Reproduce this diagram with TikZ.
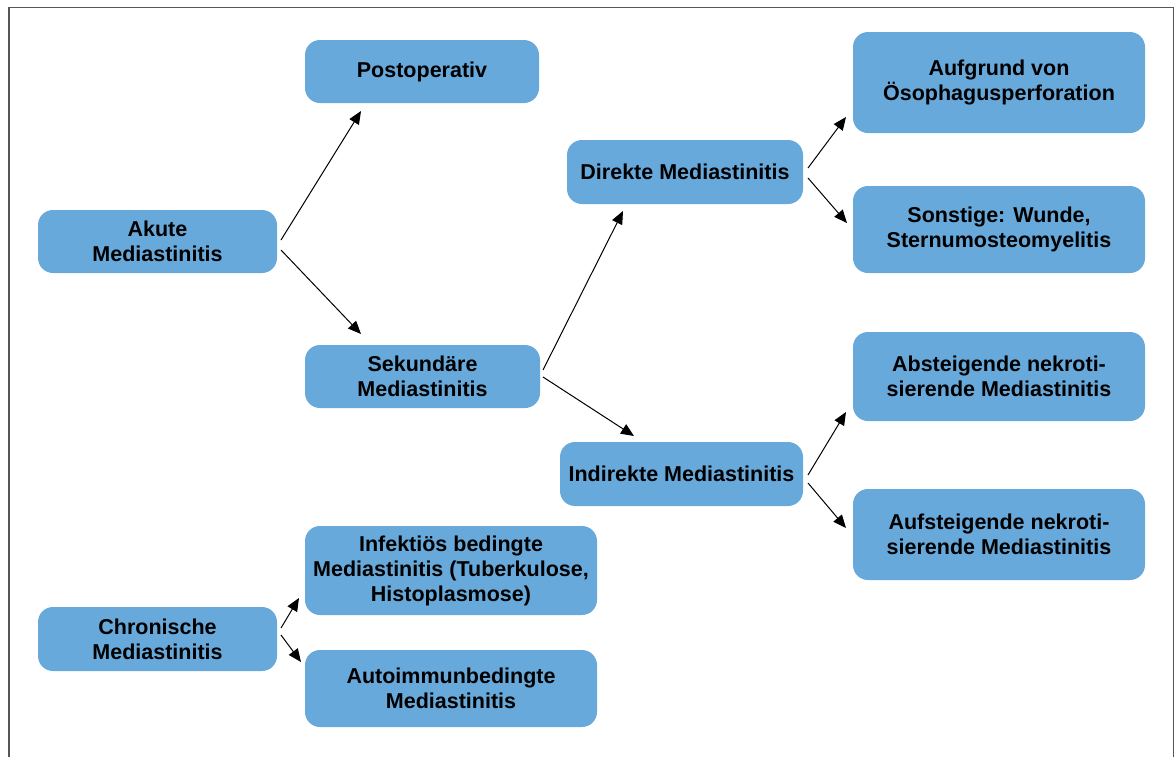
\documentclass[tikz,border=0pt]{standalone}
\usepackage{fontspec}
\setmainfont{Liberation Sans}
\usetikzlibrary{arrows.meta}
\definecolor{boxblue}{HTML}{68A9DC}
\definecolor{framegray}{HTML}{555555}
\tikzset{
  box/.style={fill=boxblue, rounded corners=15pt, inner sep=0pt},
  lbl/.style={font=\fontsize{21.5}{25}\selectfont\bfseries, align=center, text=black},
  arr/.style={-{Triangle[length=13pt,width=11pt]}, line width=1pt, black},
}
\newcommand{\bx}[6]{%
  \path[box] (#2,#3) rectangle (#4,#5);
  \node[lbl] (#1) at ({(#2+#4)/2},{(#3+#5)/2}) {#6};
  \coordinate (#1-w) at (#2,{(#3+#5)/2});
}
\begin{document}
\begin{tikzpicture}[x=1pt,y=-1pt]
\useasboundingbox (0,0) rectangle (1176,756);
\begin{scope}
\clip (0,0) rectangle (1176,756);
\draw[framegray, line width=1.2pt] (9,7.5) rectangle (1173.5,800);
\end{scope}

\bx{post}{305}{40}{539}{103}{Postoperativ}
\bx{akut}{38}{210}{277}{273}{Akute\\Mediastinitis}
\bx{sek}{305}{345}{540}{408}{Sekundäre\\Mediastinitis}
\bx{dir}{567}{140}{803}{204}{Direkte Mediastinitis}
\bx{ind}{560}{442}{803}{506}{Indirekte Mediastinitis}
\bx{auf}{853}{32}{1145}{133}{Aufgrund von\\Ösophagusperforation}
\bx{son}{853}{186}{1145}{273}{Sonstige: Wunde,\\Sternumosteomyelitis}
\bx{abs}{853}{332}{1145}{421}{Absteigende nekroti-\\sierende Mediastinitis}
\bx{aus}{853}{489}{1145}{580}{Aufsteigende nekroti-\\sierende Mediastinitis}
\bx{chr}{38}{607}{277}{671}{Chronische\\Mediastinitis}
\bx{inf}{305}{526}{597}{615}{Infektiös bedingte\\Mediastinitis (Tuberkulose,\\Histoplasmose)}
\bx{aut}{305}{650}{597}{727}{Autoimmunbedingte\\Mediastinitis}

\coordinate (a1) at (281,240); \coordinate (a2) at (281,250);
\coordinate (s1) at (543,370); \coordinate (s2) at (543,377);
\coordinate (d1) at (808,168); \coordinate (d2) at (808,178);
\coordinate (i1) at (808,475); \coordinate (i2) at (808,483);
\coordinate (c1) at (281,628); \coordinate (c2) at (281,635);
\coordinate (tpost) at (361,111);
\coordinate (tsek) at (361,334);
\coordinate (tdir) at (623,211);
\coordinate (tind) at (634,436);
\coordinate (tauf) at (846,117);
\coordinate (tson) at (847,223);
\coordinate (tabs) at (846,412);
\coordinate (taus) at (846,528);
\coordinate (tinf) at (299,598);
\coordinate (taut) at (301,662);

\draw[arr] (a1) -- (tpost);
\draw[arr] (a2) -- (tsek);
\draw[arr] (s1) -- (tdir);
\draw[arr] (s2) -- (tind);
\draw[arr] (d1) -- (tauf);
\draw[arr] (d2) -- (tson);
\draw[arr] (i1) -- (tabs);
\draw[arr] (i2) -- (taus);
\draw[arr] (c1) -- (tinf);
\draw[arr] (c2) -- (taut);
\end{tikzpicture}
\end{document}
